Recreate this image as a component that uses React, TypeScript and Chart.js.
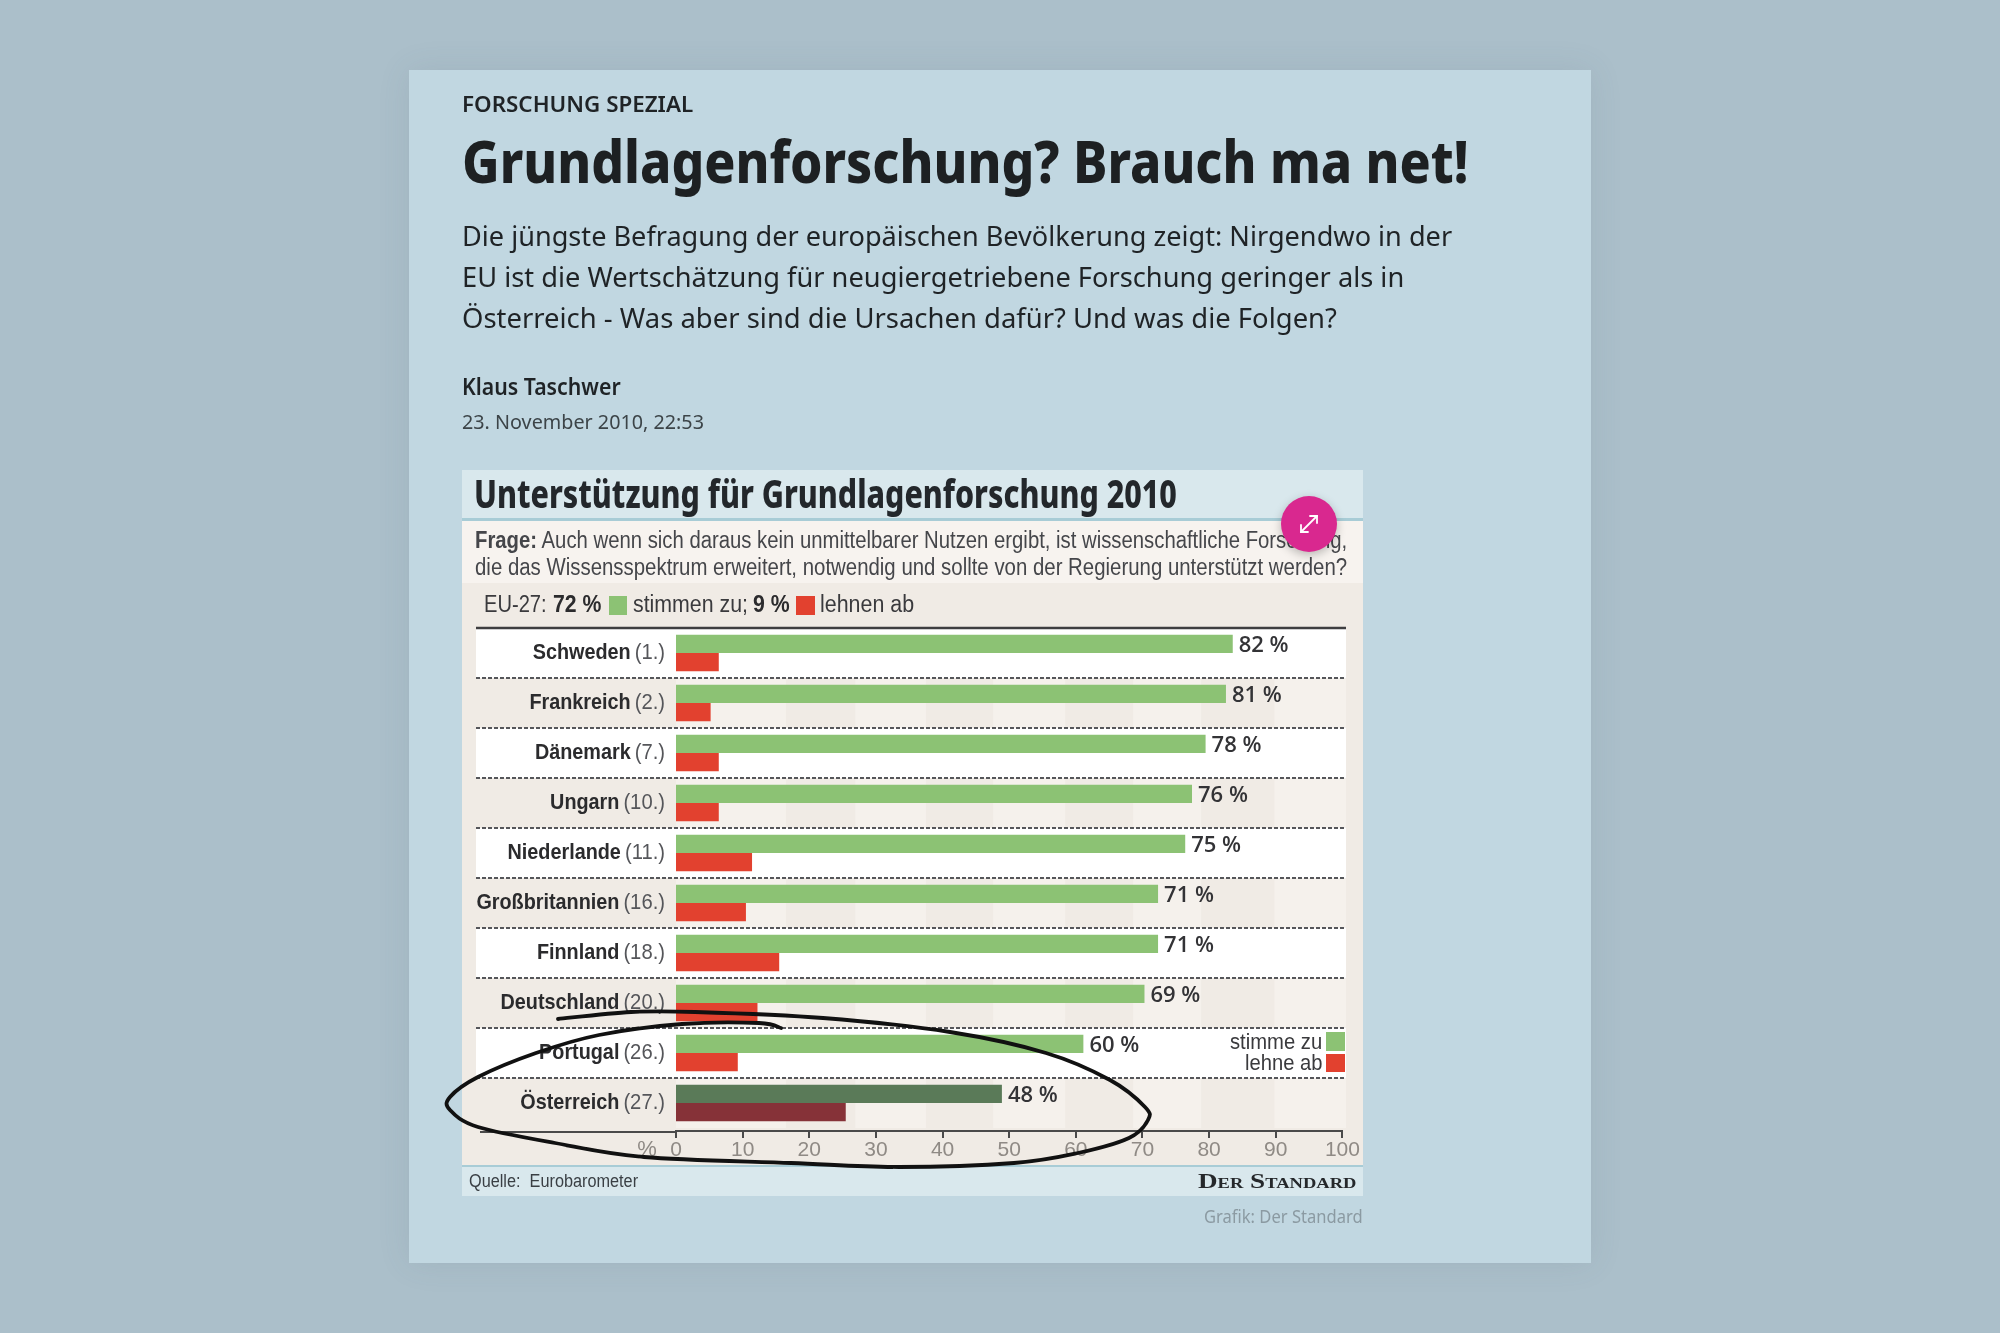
import React, { useEffect, useLayoutEffect, useRef } from "react";
import { Chart, registerables } from "chart.js";

Chart.register(...registerables);

const countries = ["Schweden", "Frankreich", "Dänemark", "Ungarn", "Niederlande", "Großbritannien", "Finnland", "Deutschland", "Portugal", "Österreich"];
const ranks = ["(1.)", "(2.)", "(7.)", "(10.)", "(11.)", "(16.)", "(18.)", "(20.)", "(26.)", "(27.)"];
const agree = [82, 81, 78, 76, 75, 71, 71, 69, 60, 48];
const reject = [6.3, 5.1, 6.3, 6.3, 11.2, 10.3, 15.2, 12, 9.1, 25];
const axisTicks = [0, 10, 20, 30, 40, 50, 60, 70, 80, 90, 100];
const shadedBands = [[16.5, 26.9], [37.5, 47.6], [58.4, 68.6], [78.8, 89.8]];
const highlighted = "Österreich";

const GREEN = "#8cc274";
const RED = "#e2412f";
const GREEN_DARK = "#5a7a58";
const RED_DARK = "#863238";
const NARROW = "'Liberation Sans Narrow', 'Liberation Sans', sans-serif";
const NOTO = "'Noto Sans', sans-serif";

const loop: number[][] = [[558,1019],[631,1012],[695,1012],[823,1018],[950,1032],[1046,1053],[1110,1080],[1145,1107],[1148,1120],[1129,1138],[1078,1153],[1014,1163],[899,1167],[791,1163],[644,1157],[555,1143],[478,1127],[450,1110],[450,1097],[478,1077],[536,1053],[599,1035],[682,1024],[759,1023],[781,1028]];

function smoothPath(p: number[][]) {
  let d = `M${p[0][0]} ${p[0][1]}`;
  for (let i = 0; i < p.length - 1; i++) {
    const a = p[Math.max(i - 1, 0)], b = p[i], c = p[i + 1], e = p[Math.min(i + 2, p.length - 1)];
    d += ` C${b[0] + (c[0] - a[0]) / 6} ${b[1] + (c[1] - a[1]) / 6} ${c[0] - (e[0] - b[0]) / 6} ${c[1] - (e[1] - b[1]) / 6} ${c[0]} ${c[1]}`;
  }
  return d;
}

function squeezed(ctx: any, text: string, rightX: number, y: number, k: number) {
  ctx.save();
  ctx.translate(rightX, y);
  ctx.scale(k, 1);
  ctx.textAlign = "right";
  ctx.fillText(text, 0, 0);
  const w = ctx.measureText(text).width * k;
  ctx.restore();
  return w;
}

const rowsPlugin = {
  id: "rows",
  beforeDatasetsDraw(chart: any) {
    const { ctx, scales } = chart;
    const y = scales.y, t = scales.xTicks;
    const left = 476, right = 1346;
    const half = (y.getPixelForTick(1) - y.getPixelForTick(0)) / 2;
    ctx.save();
    countries.forEach((_, i) => {
      const c = y.getPixelForTick(i);
      if (i % 2 === 0) {
        ctx.fillStyle = "#ffffff";
        ctx.fillRect(left, c - half, right - left, half * 2);
      } else {
        const barLeft = t.getPixelForValue(0);
        ctx.fillStyle = "#f5f1ec";
        ctx.fillRect(barLeft, c - half, right - barLeft, half * 2);
        ctx.fillStyle = "#f0ebe5";
        shadedBands.forEach(([a, b]) => {
          const pa = t.getPixelForValue(a), pb = t.getPixelForValue(b);
          ctx.fillRect(pa, c - half, pb - pa, half * 2);
        });
      }
    });
    ctx.strokeStyle = "#3e3e40";
    ctx.lineWidth = 2.5;
    ctx.beginPath();
    ctx.moveTo(left, y.top);
    ctx.lineTo(right, y.top);
    ctx.stroke();
    ctx.strokeStyle = "#55565a";
    ctx.lineWidth = 1.8;
    ctx.setLineDash([4, 2]);
    countries.slice(0, -1).forEach((_, i) => {
      const yy = y.getPixelForTick(i) + half;
      ctx.beginPath();
      ctx.moveTo(left, yy);
      ctx.lineTo(right, yy);
      ctx.stroke();
    });
    ctx.restore();
  },
  afterDatasetsDraw(chart: any) {
    const { ctx, scales } = chart;
    const y = scales.y, t = scales.xTicks;
    const rankRight = t.getPixelForValue(0) - 11;
    ctx.save();
    ctx.textBaseline = "middle";
    countries.forEach((name, i) => {
      const c = y.getPixelForTick(i);
      ctx.font = `22px ${NARROW}`;
      ctx.fillStyle = "#55565a";
      const rw = squeezed(ctx, ranks[i], rankRight, c, 0.92);
      ctx.font = `bold 22px ${NARROW}`;
      ctx.fillStyle = "#2b2b2d";
      squeezed(ctx, name, rankRight - rw - 4, c, 0.9);
    });
    const green = chart.getDatasetMeta(0).data;
    ctx.textAlign = "left";
    ctx.font = `600 22px 'Open Sans', sans-serif`;
    ctx.fillStyle = "#333336";
    green.forEach((bar: any, i: number) => {
      ctx.fillText(`${agree[i]} %`, bar.x + 6, bar.y + 1.5);
    });
    ctx.strokeStyle = "#4a4a4a";
    ctx.lineWidth = 2;
    ctx.beginPath();
    ctx.moveTo(480, t.top + 1);
    ctx.lineTo(t.getPixelForValue(0), t.top + 1);
    ctx.stroke();
    ctx.font = `22px ${NARROW}`;
    ctx.fillStyle = "#8f8a85";
    ctx.textAlign = "center";
    ctx.fillText("%", 647, t.top + 19);
    ctx.restore();
  },
};

function T({ x, y, w, size, weight = 400, color = "#222", family = NOTO, children, extra }: any) {
  return (
    <div
      data-fit={w}
      style={{
        position: "absolute", left: x, top: y, whiteSpace: "nowrap", fontSize: size, fontWeight: weight,
        color, fontFamily: family, lineHeight: 1, transformOrigin: "left center", transform: "translateY(-50%)", ...extra,
      }}
    >
      {children}
    </div>
  );
}

function Box({ x, y, w, h, c, extra }: any) {
  return <div style={{ position: "absolute", left: x, top: y, width: w, height: h, background: c, ...extra }} />;
}

export default function App() {
  const ref = useRef<HTMLCanvasElement>(null);
  const rootRef = useRef<HTMLDivElement>(null);

  useLayoutEffect(() => {
    rootRef.current!.querySelectorAll<HTMLElement>("[data-fit]").forEach((el) => {
      const target = Number(el.dataset.fit);
      const s = target / el.offsetWidth;
      el.style.transform = `translateY(-50%) scaleX(${s})`;
    });
  }, []);

  useEffect(() => {
    const chart = new Chart(ref.current!, {
      type: "bar",
      data: {
        labels: countries,
        datasets: [
          { label: "stimme zu", data: agree, backgroundColor: countries.map((c) => (c === highlighted ? GREEN_DARK : GREEN)), xAxisID: "x", yAxisID: "y", categoryPercentage: 0.73, barPercentage: 1 },
          { label: "lehne ab", data: reject, backgroundColor: countries.map((c) => (c === highlighted ? RED_DARK : RED)), xAxisID: "x", yAxisID: "y", categoryPercentage: 0.73, barPercentage: 1 },
        ],
      },
      options: {
        indexAxis: "y",
        responsive: false,
        animation: false,
        layout: { padding: { left: 676, top: 628, right: 657.6, bottom: 172 } },
        plugins: { legend: { display: false }, tooltip: { enabled: false } },
        scales: {
          y: { type: "category", display: false },
          x: {
            type: "linear", min: 0, max: 98.15, position: "bottom", weight: 0,
            grid: { display: false }, border: { display: false },
            ticks: { display: false },
            afterFit: (s: any) => { s.height = 3; },
          },
          xTicks: {
            type: "linear", min: 0, max: 100, position: "bottom", weight: 1,
            afterBuildTicks: (s: any) => { s.ticks = axisTicks.map((value) => ({ value })); },
            grid: { drawOnChartArea: false, drawTicks: true, tickLength: 7, color: "#4a4a4a", lineWidth: 2 },
            border: { display: true, color: "#4a4a4a", width: 2 },
            ticks: { color: "#8f8a85", font: { family: NARROW, size: 21 }, padding: 0, maxRotation: 0, autoSkip: false },
            afterFit: (s: any) => { s.height = 30; },
          },
        },
      } as any,
      plugins: [rowsPlugin],
    });
    return () => chart.destroy();
  }, []);

  return (
    <div ref={rootRef} style={{ position: "fixed", left: 0, top: 0, width: 2000, height: 1333, background: "#abbfca", overflow: "hidden" }}>
      <Box x={409} y={70} w={1182} h={1193} c="#c1d7e1" extra={{ boxShadow: "0 0 30px rgba(80,100,115,0.12)" }} />
      <Box x={462} y={470} w={901} h={726} c="#f0ebe5" />
      <Box x={462} y={470} w={901} h={50} c="#d9e8ed" />
      <Box x={462} y={518} w={901} h={3} c="#a8ccd6" />
      <Box x={462} y={521} w={901} h={62} c="#f7f3ef" />
      <Box x={462} y={1166} w={901} h={30} c="#d9e8ed" />
      <Box x={462} y={1165} w={901} h={2} c="#a8ccd6" />

      <canvas ref={ref} width={2000} height={1333} style={{ position: "absolute", left: 0, top: 0 }} />

      <T x={462} y={103} w={231} size={22} weight={600} color="#1f2326">FORSCHUNG SPEZIAL</T>
      <T x={462} y={161} w={1007} size={58} weight={800} color="#1d2022">Grundlagenforschung? Brauch ma net!</T>
      <T x={462} y={235} w={990} size={28} color="#1f2326">Die jüngste Befragung der europäischen Bevölkerung zeigt: Nirgendwo in der</T>
      <T x={462} y={276} w={942} size={28} color="#1f2326">EU ist die Wertschätzung für neugiergetriebene Forschung geringer als in</T>
      <T x={462} y={317} w={875} size={28} color="#1f2326">Österreich - Was aber sind die Ursachen dafür? Und was die Folgen?</T>
      <T x={462} y={386} w={159} size={23} weight={600} color="#1f2326">Klaus Taschwer</T>
      <T x={462} y={422} w={242} size={20} color="#3c4448">23. November 2010, 22:53</T>

      <T x={474} y={493} w={703} size={40} weight={800} color="#23272b">Unterstützung für Grundlagenforschung 2010</T>
      <T x={475} y={540} w={872} size={23} color="#45464a" family={NARROW}><b>Frage:</b> Auch wenn sich daraus kein unmittelbarer Nutzen ergibt, ist wissenschaftliche Forschung,</T>
      <T x={475} y={567} w={872} size={23} color="#45464a" family={NARROW}>die das Wissensspektrum erweitert, notwendig und sollte von der Regierung unterstützt werden?</T>

      <T x={484} y={604} w={63} size={23} color="#3a3a3d" family={NARROW}>EU-27:</T>
      <T x={553} y={604} w={48} size={23} weight={700} color="#2b2b2d" family={NARROW}>72 %</T>
      <Box x={609} y={596} w={18} h={19} c={GREEN} />
      <T x={633} y={604} w={115} size={23} color="#3a3a3d" family={NARROW}>stimmen zu;</T>
      <T x={753} y={604} w={37} size={23} weight={700} color="#2b2b2d" family={NARROW}>9 %</T>
      <Box x={796} y={596} w={19} h={19} c={RED} />
      <T x={820} y={604} w={94} size={23} color="#3a3a3d" family={NARROW}>lehnen ab</T>

      <T x={1230} y={1042} w={92} size={22} color="#3a3a3d" family={NARROW}>stimme zu</T>
      <Box x={1326} y={1032} w={19} h={19} c={GREEN} />
      <T x={1245} y={1063} w={77} size={22} color="#3a3a3d" family={NARROW}>lehne ab</T>
      <Box x={1326} y={1054} w={19} h={18} c={RED} />

      <T x={469} y={1181} w={169} size={18} color="#3a3f44" family={NARROW}>Quelle:&nbsp; Eurobarometer</T>
      <T x={1198} y={1181} w={158} size={22} weight={700} color="#25282b" family="'Liberation Serif', serif" extra={{ fontVariant: "small-caps" }}>Der Standard</T>
      <T x={1204} y={1216} w={159} size={18} color="#8b9aa2">Grafik: Der Standard</T>

      <svg width={2000} height={1333} style={{ position: "absolute", left: 0, top: 0 }}>
        <path d={smoothPath(loop)} fill="none" stroke="#111" strokeWidth={3.8} strokeLinecap="round" strokeLinejoin="round" />
      </svg>

      <div style={{ position: "absolute", left: 1281, top: 496, width: 56, height: 56, borderRadius: "50%", background: "#d9288f", boxShadow: "0 3px 10px rgba(0,0,0,0.25)" }}>
        <svg width={56} height={56} viewBox="0 0 56 56">
          <g stroke="#fff" strokeWidth={1.8} fill="none" strokeLinecap="round">
            <path d="M20 36 L36 20" />
            <path d="M29 20 H36 V27" />
            <path d="M27 36 H20 V29" />
          </g>
        </svg>
      </div>
    </div>
  );
}
